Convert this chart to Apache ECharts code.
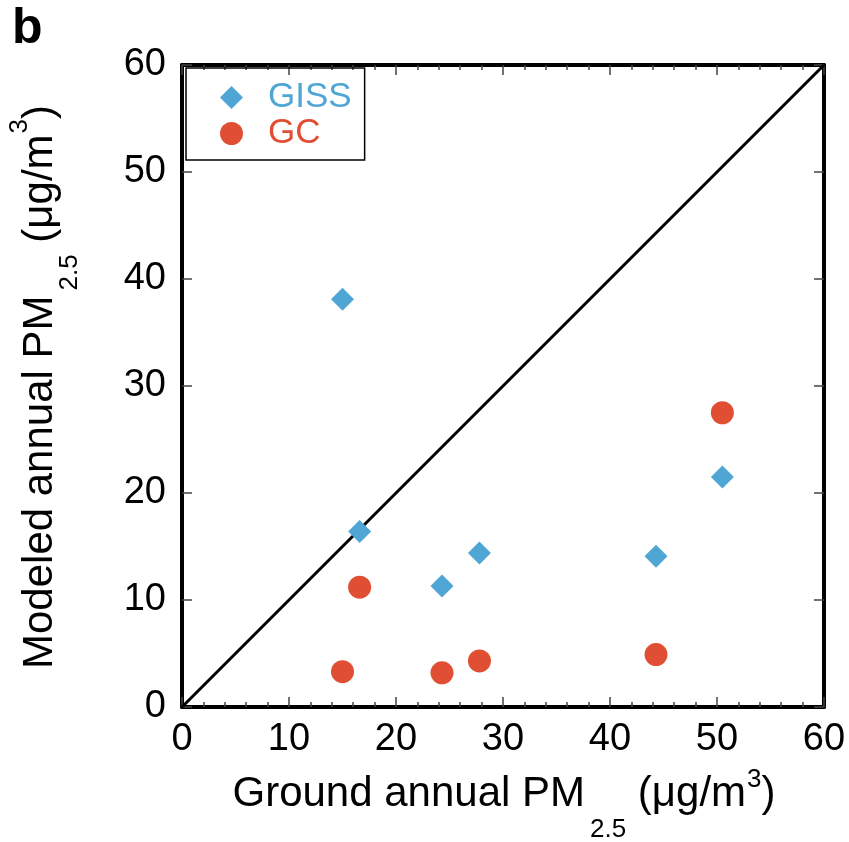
<!DOCTYPE html>
<html><head><meta charset="utf-8">
<script src="https://cdn.jsdelivr.net/npm/echarts@6/dist/echarts.min.js"></script>
<style>html,body{margin:0;padding:0;background:#fff}#c{width:849px;height:842px}</style>
</head><body><div id="c"></div>
<script>
// Data
const groundGISS = [15.0, 16.6, 24.3, 27.8, 44.3, 50.5];
const modelGISS  = [38.1, 16.4, 11.3, 14.4, 14.1, 21.5];
const groundGC   = [15.0, 16.6, 24.3, 27.8, 44.3, 50.5];
const modelGC    = [3.3, 11.2, 3.2, 4.3, 4.9, 27.5];
const diagX = [0, 60];
const diagY = [0, 60];
const axisTicks = [0, 10, 20, 30, 40, 50, 60];
const seriesNames = ['GISS', 'GC'];

const BLUE = '#4fa6d5', RED = '#e04f33';
const FONT = 'Liberation Sans, Arial, Helvetica, sans-serif';
const zip = (a, b) => a.map((v, i) => [v, b[i]]);

const tickMin = axisTicks[0], tickMax = axisTicks[axisTicks.length - 1], tickStep = axisTicks[1] - axisTicks[0];

function axisBase(extra) {
  return Object.assign({
    type: 'value', min: tickMin, max: tickMax, interval: tickStep,
    axisLine: { show: true, onZero: false, lineStyle: { color: '#000', width: 4 } },
    axisTick: { show: true, inside: true, length: 10, lineStyle: { color: '#444', width: 1.5 } },
    splitLine: { show: false },
    axisLabel: { show: false }
  }, extra);
}

function richStyle(subTop, supTop) {
  return {
    a: { fontSize: 42, lineHeight: 46, padding: [24, 0, 0, 0], verticalAlign: 'top', fontFamily: FONT, fill: '#000' },
    s: { fontSize: 26, lineHeight: 28, padding: [subTop, 0, 0, 5], verticalAlign: 'top', fontFamily: FONT, fill: '#000' },
    p: { fontSize: 26, lineHeight: 28, padding: [supTop, 0, 0, 1], verticalAlign: 'top', fontFamily: FONT, fill: '#000' }
  };
}

const chart = echarts.init(document.getElementById('c'), null, { renderer: 'canvas' });
chart.setOption({
  backgroundColor: '#fff',
  animation: false,
  grid: { left: 182, top: 65, width: 642, height: 642, containLabel: false },
  xAxis: [
    axisBase({ position: 'bottom',
      minorTick: { show: true, splitNumber: 5, length: 5, lineStyle: { color: '#444', width: 1.5 } },
      axisLabel: { show: true, fontSize: 38, color: '#000', fontFamily: FONT, margin: 14 } }),
    axisBase({ position: 'top',
      minorTick: { show: true, splitNumber: 5, length: 5, lineStyle: { color: '#444', width: 1.5 } } })
  ],
  yAxis: [
    axisBase({ position: 'left',
      axisLabel: { show: true, fontSize: 38, color: '#000', fontFamily: FONT, margin: 16, padding: [0, 0, 8, 0] } }),
    axisBase({ position: 'right' })
  ],
  legend: {
    left: 186, top: 68, orient: 'vertical',
    borderColor: '#000', borderWidth: 1.5,
    padding: [12, 13, 9, 34],
    itemWidth: 23, itemHeight: 23, itemGap: 1,
    textStyle: { fontSize: 35, fontFamily: FONT, padding: [0, 0, 0, 20] },
    data: [
      { name: seriesNames[0], icon: 'diamond', textStyle: { color: BLUE } },
      { name: seriesNames[1], icon: 'circle', textStyle: { color: RED } }
    ]
  },
  series: [
    { type: 'line', name: '1:1', data: zip(diagX, diagY), symbol: 'none', silent: true, z: 1,
      lineStyle: { color: '#000', width: 3 } },
    { type: 'scatter', name: seriesNames[0], data: zip(groundGISS, modelGISS), symbol: 'diamond', symbolSize: 23,
      itemStyle: { color: BLUE, opacity: 1 }, z: 3 },
    { type: 'scatter', name: seriesNames[1], data: zip(groundGC, modelGC), symbol: 'circle', symbolSize: 23,
      itemStyle: { color: RED, opacity: 1 }, z: 3 }
  ],
  graphic: [
    { type: 'text', left: 12, top: 4, style: { text: 'b', fontSize: 50, fontWeight: 'bold', fill: '#000', fontFamily: FONT } },
    { type: 'text', x: 504, y: 749, silent: true,
      style: {
        text: '{a|Ground annual PM}{s|2.5}{a| (μg/m}{p|3}{a|)}',
        align: 'center', verticalAlign: 'top', fill: '#000', fontFamily: FONT,
        rich: richStyle(68, 18)
      } },
    { type: 'text', x: -5, y: 387, rotation: Math.PI / 2, silent: true,
      style: {
        text: '{a|Modeled annual PM}{s|2.5}{a| (μg/m}{p|3}{a|)}',
        align: 'center', verticalAlign: 'top', fill: '#000', fontFamily: FONT,
        rich: richStyle(62, 12)
      } }
  ]
});
</script></body></html>
